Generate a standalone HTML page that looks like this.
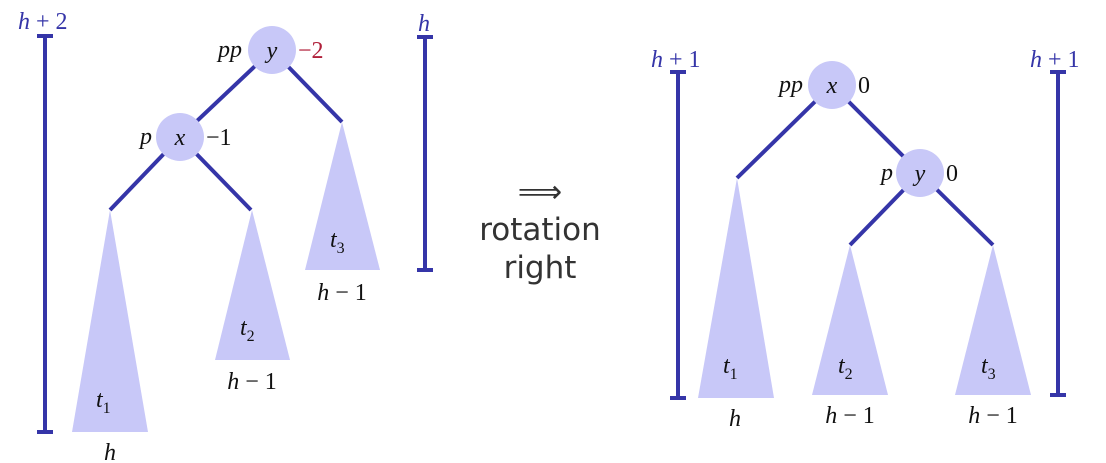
<!DOCTYPE html>
<html><head><meta charset="utf-8"><style>
html,body{margin:0;padding:0;background:#fff;}
svg{display:block;}
.m{font-family:"Liberation Serif",serif;font-style:italic;font-size:24px;fill:#111;}
.b{fill:#3535a8;}
.u{font-style:normal;}
.r{fill:#b0203a;font-family:"Liberation Serif",serif;font-size:24px;}
.n{font-family:"Liberation Serif",serif;font-size:24px;fill:#111;}
.s{font-family:"DejaVu Sans",sans-serif;font-size:31px;fill:#333;}
.e{stroke:#3535a8;stroke-width:4;fill:none;}
.t{fill:#c8c8f8;}
</style></head><body>
<svg width="1106" height="463" viewBox="0 0 1106 463">
<g>
<line class="e" x1="45" y1="36" x2="45" y2="432"/><line class="e" x1="37" y1="36" x2="53" y2="36"/><line class="e" x1="37" y1="432" x2="53" y2="432"/>
<text class="m b" x="18" y="29">h <tspan class="u">+ 2</tspan></text></g>
<g>
<line class="e" x1="272" y1="50" x2="180" y2="137"/><line class="e" x1="272" y1="50" x2="342" y2="122"/>
<line class="e" x1="180" y1="137" x2="110" y2="210"/><line class="e" x1="180" y1="137" x2="251" y2="210"/></g>
<g><circle class="t" cx="272" cy="50" r="24"/>
<text class="m" x="272" y="58" text-anchor="middle">y</text><text class="m" x="218" y="57">pp</text><text class="r" x="298" y="58">−2</text></g>
<g><circle class="t" cx="180" cy="137" r="24"/>
<text class="m" x="180" y="145" text-anchor="middle">x</text><text class="m" x="140" y="144">p</text><text class="n" x="206" y="145">−1</text></g>
<g><polygon class="t" points="110,210 72,432 148,432"/>
<text class="m" x="96" y="407">t<tspan font-size="16" dy="6" font-style="normal">1</tspan></text><text class="m" x="110" y="460" text-anchor="middle">h</text></g>
<g><polygon class="t" points="252,210 215,360 290,360"/>
<text class="m" x="240" y="335">t<tspan font-size="16" dy="6" font-style="normal">2</tspan></text><text class="m" x="252" y="389" text-anchor="middle">h <tspan class="u">− 1</tspan></text></g>
<g><polygon class="t" points="342,122 305,270 380,270"/>
<text class="m" x="330" y="247">t<tspan font-size="16" dy="6" font-style="normal">3</tspan></text><text class="m" x="342" y="300" text-anchor="middle">h <tspan class="u">− 1</tspan></text></g>
<g>
<line class="e" x1="425" y1="37" x2="425" y2="270"/><line class="e" x1="417" y1="37" x2="433" y2="37"/><line class="e" x1="417" y1="270" x2="433" y2="270"/>
<text class="m b" x="418" y="31">h</text></g>
<text class="s" x="540" y="202" text-anchor="middle" font-size="40">⟹</text>
<text class="s" x="540" y="240" text-anchor="middle">rotation</text>
<text class="s" x="540" y="278" text-anchor="middle">right</text>
<g>
<line class="e" x1="678" y1="72" x2="678" y2="398"/><line class="e" x1="670" y1="72" x2="686" y2="72"/><line class="e" x1="670" y1="398" x2="686" y2="398"/>
<text class="m b" x="651" y="67">h <tspan class="u">+ 1</tspan></text></g>
<g>
<line class="e" x1="832" y1="85" x2="737" y2="178"/><line class="e" x1="832" y1="85" x2="920" y2="173"/>
<line class="e" x1="920" y1="173" x2="850" y2="245"/><line class="e" x1="920" y1="173" x2="993" y2="245"/></g>
<g><circle class="t" cx="832" cy="85" r="24"/>
<text class="m" x="832" y="93" text-anchor="middle">x</text><text class="m" x="779" y="92">pp</text><text class="n" x="858" y="93">0</text></g>
<g><circle class="t" cx="920" cy="173" r="24"/>
<text class="m" x="920" y="181" text-anchor="middle">y</text><text class="m" x="881" y="180">p</text><text class="n" x="946" y="181">0</text></g>
<g><polygon class="t" points="737,178 698,398 774,398"/>
<text class="m" x="723" y="373">t<tspan font-size="16" dy="6" font-style="normal">1</tspan></text><text class="m" x="735" y="426" text-anchor="middle">h</text></g>
<g><polygon class="t" points="850,245 812,395 888,395"/>
<text class="m" x="838" y="373">t<tspan font-size="16" dy="6" font-style="normal">2</tspan></text><text class="m" x="850" y="423" text-anchor="middle">h <tspan class="u">− 1</tspan></text></g>
<g><polygon class="t" points="993,245 955,395 1031,395"/>
<text class="m" x="981" y="373">t<tspan font-size="16" dy="6" font-style="normal">3</tspan></text><text class="m" x="993" y="423" text-anchor="middle">h <tspan class="u">− 1</tspan></text></g>
<g>
<line class="e" x1="1058" y1="72" x2="1058" y2="395"/><line class="e" x1="1050" y1="72" x2="1066" y2="72"/><line class="e" x1="1050" y1="395" x2="1066" y2="395"/>
<text class="m b" x="1030" y="67">h <tspan class="u">+ 1</tspan></text></g>
</svg>
</body></html>
